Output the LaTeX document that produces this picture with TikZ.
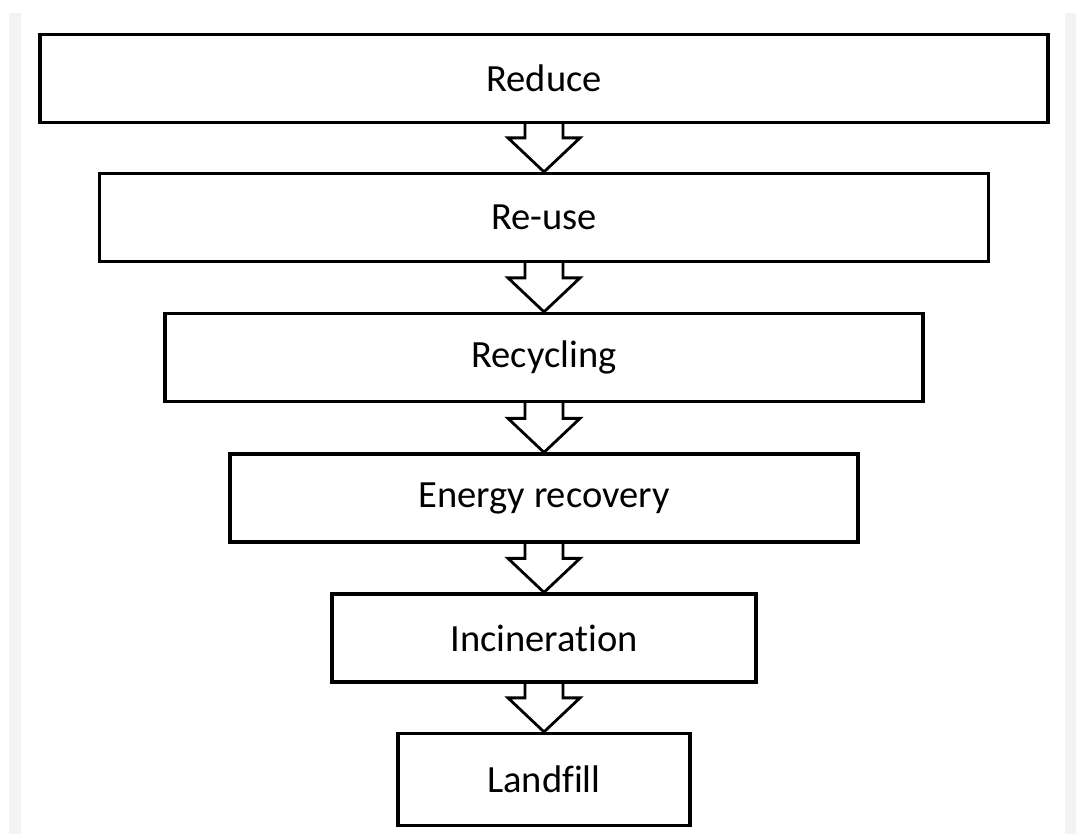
\documentclass[tikz,border=0pt]{standalone}
\usepackage{fontspec}
\setmainfont{Carlito}[Ligatures=NoCommon]
\usetikzlibrary{calc}
\definecolor{stripgray}{HTML}{F3F3F3}
\begin{document}
\begin{tikzpicture}[x=1pt, y=1pt,
    tier/.style={draw, line width=3.2pt, minimum height=88pt, inner sep=0pt,
      font=\fontsize{38.5}{46}\selectfont},
    hollowarrow/.style={draw, line width=2.8pt}]
  \fill [white] (0,0) rectangle (1076,834);
  \fill [stripgray] (9,0) rectangle (21,821);
  \fill [stripgray] (1065,0) rectangle (1076,821);
  \node [tier, minimum width=1008pt] (reduce) at (544,755.5) {Reduce};
  \node [tier, minimum width=889pt] (reuse) at (544,616.5) {Re-use};
  \node [tier, minimum width=758pt] (recycling) at (544,476.5) {Recycling};
  \node [tier, minimum width=628pt] (energy) at (544,336) {Energy recovery};
  \node [tier, minimum width=424pt] (incineration) at (544,196) {Incineration};
  \node [tier, minimum width=292pt, minimum height=92pt] (landfill) at (544,54.5) {Landfill};
  \foreach \a/\b in {reduce/reuse, reuse/recycling, recycling/energy,
      energy/incineration, incineration/landfill}
    \draw [hollowarrow] ($(\a.south)+(-19,0)$) |- ($(\b.north)+(-36,34)$)
      -- (\b.north) -- ($(\b.north)+(36,34)$) -| ($(\a.south)+(19,0)$);
\end{tikzpicture}
\end{document}
